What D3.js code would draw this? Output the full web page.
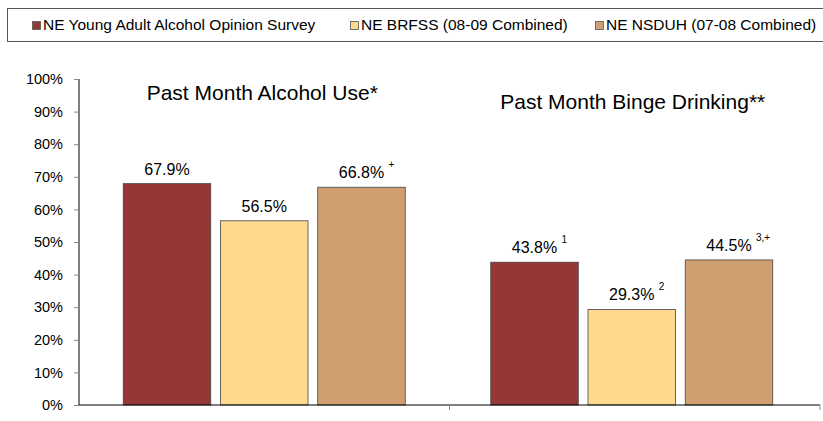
<!DOCTYPE html>
<html>
<head>
<meta charset="utf-8">
<script src="https://cdn.jsdelivr.net/npm/d3@7"></script>
<style>
  body { margin: 0; background: #fff; }
  svg { font-family: Arial, "Liberation Sans", sans-serif; }
</style>
</head>
<body>
<div id="chart"></div>
<script>
// data
var groups = ["Past Month Alcohol Use*", "Past Month Binge Drinking**"];
var series = ["NE Young Adult Alcohol Opinion Survey", "NE BRFSS (08-09 Combined)", "NE NSDUH (07-08 Combined)"];
var alcoholUse = [67.9, 56.5, 66.8];
var bingeDrinking = [43.8, 29.3, 44.5];
var alcoholNotes = ["", "", "+"];
var bingeNotes = ["1", "2", "3,+"];
var yTicks = [0, 10, 20, 30, 40, 50, 60, 70, 80, 90, 100];

var colors = ["#953735", "#FFD98E", "#D09F71"];

var width = 823, height = 421;
var margin = {left: 79, right: 3, top: 79, bottom: 16};

var svg = d3.select("#chart").append("svg")
  .attr("width", width)
  .attr("height", height);

var y = d3.scaleLinear().domain([0, 100]).range([height - margin.bottom, margin.top]);
var x0 = d3.scaleBand().domain(groups).range([margin.left, width - margin.right]).paddingInner(0).paddingOuter(0);
var x1 = d3.scaleBand().domain(series).range([0, 282]).paddingInner(0.1).paddingOuter(0);

var rows = [
  {group: groups[0], values: alcoholUse, notes: alcoholNotes, titleY: 100, shift: 0},
  {group: groups[1], values: bingeDrinking, notes: bingeNotes, titleY: 109, shift: -3}
];

// y axis
var yAxis = svg.append("g")
  .attr("transform", "translate(" + margin.left + ",0)")
  .call(d3.axisLeft(y).tickValues(yTicks).tickFormat(function(d) { return d + "%"; }).tickSize(5).tickPadding(11));
yAxis.select(".domain").attr("stroke", "#000").attr("d", "M0," + y(100) + "V" + y(0));
yAxis.selectAll(".tick line").attr("stroke", "#888");
yAxis.selectAll("text").attr("font-size", "14.5px").attr("fill", "#000").attr("font-family", null);

// bars
rows.forEach(function(r) {
  var gx = x0(r.group) + (x0.bandwidth() - 282) / 2 + r.shift;
  var g = svg.append("g").attr("transform", "translate(" + gx + ",0)");

  g.selectAll("rect").data(r.values).enter().append("rect")
    .attr("x", function(d, i) { return x1(series[i]); })
    .attr("y", function(d) { return y(d); })
    .attr("width", x1.bandwidth())
    .attr("height", function(d) { return y(0) - y(d); })
    .attr("fill", function(d, i) { return colors[i]; })
    .attr("stroke", "#444")
    .attr("stroke-width", 0.8);

  g.selectAll("text.val").data(r.values).enter().append("text")
    .attr("class", "val")
    .attr("x", function(d, i) { return x1(series[i]) + x1.bandwidth() / 2; })
    .attr("y", function(d) { return y(d) - 9; })
    .attr("text-anchor", "middle")
    .attr("font-size", "16px")
    .text(function(d) { return d.toFixed(1) + "%"; });

  g.selectAll("text.note").data(r.values).enter().append("text")
    .attr("class", "note")
    .attr("x", function(d, i) { return x1(series[i]) + x1.bandwidth() / 2 + 27; })
    .attr("y", function(d) { return y(d) - 19; })
    .attr("font-size", "10px")
    .text(function(d, i) { return r.notes[i]; });

  svg.append("text")
    .attr("x", x0(r.group) + x0.bandwidth() / 2 - 2)
    .attr("y", r.titleY)
    .attr("text-anchor", "middle")
    .attr("font-size", "21px")
    .text(r.group);
});

// x axis
svg.append("line")
  .attr("x1", margin.left).attr("x2", width - margin.right)
  .attr("y1", y(0)).attr("y2", y(0))
  .attr("stroke", "#000");
svg.selectAll("line.xtick").data(groups).enter().append("line")
  .attr("class", "xtick")
  .attr("x1", function(d) { return x0(d) + x0.bandwidth(); })
  .attr("x2", function(d) { return x0(d) + x0.bandwidth(); })
  .attr("y1", y(0)).attr("y2", y(0) + 5)
  .attr("stroke", "#888");

// legend
svg.append("rect")
  .attr("x", 7.5).attr("y", 8.5)
  .attr("width", 830).attr("height", 33)
  .attr("fill", "none")
  .attr("stroke", "#555");
var legendX = [32, 350, 595];
var leg = svg.selectAll("g.leg").data(series).enter().append("g")
  .attr("class", "leg")
  .attr("transform", function(d, i) { return "translate(" + legendX[i] + ",0)"; });
leg.append("rect")
  .attr("x", 0.5).attr("y", 21.5)
  .attr("width", 8).attr("height", 8)
  .attr("fill", function(d, i) { return colors[i]; })
  .attr("stroke", "#555")
  .attr("stroke-width", 0.8);
leg.append("text")
  .attr("x", 11).attr("y", 30)
  .attr("font-size", "15.5px")
  .text(function(d) { return d; });
</script>
</body>
</html>
